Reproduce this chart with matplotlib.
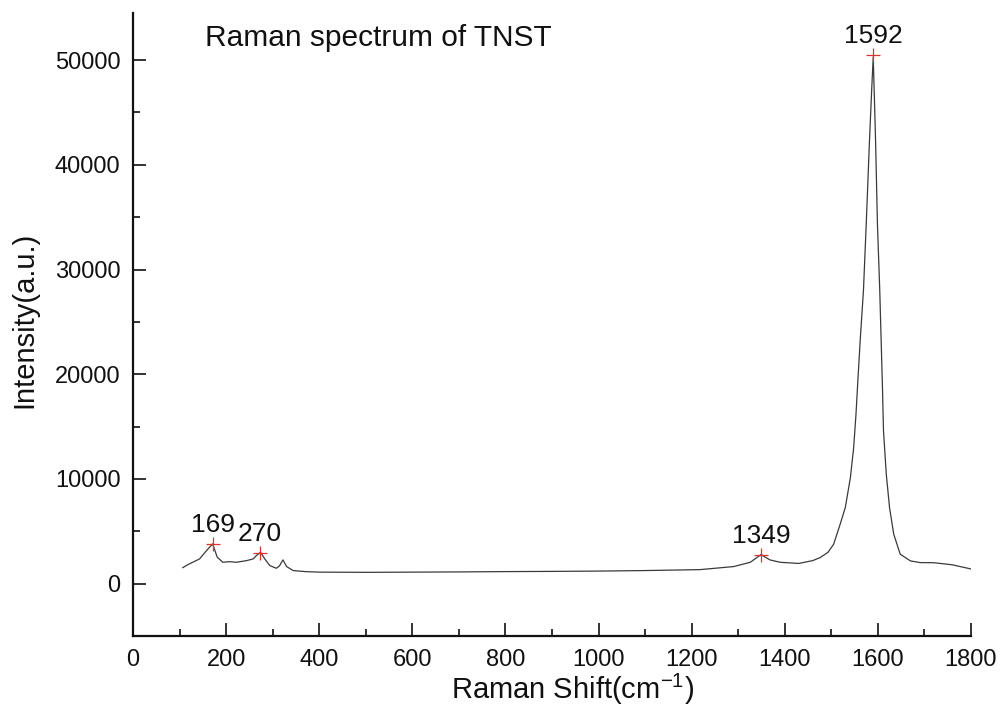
import matplotlib
matplotlib.use("Agg")
import matplotlib.pyplot as plt
from matplotlib.ticker import MultipleLocator

plt.rcParams['font.family'] = ['Liberation Sans', 'DejaVu Sans']
plt.rcParams['mathtext.fontset'] = 'custom'
plt.rcParams['mathtext.rm'] = 'Liberation Sans'

# Spectrum
shift = [107, 118, 143, 158, 171, 181, 193, 208, 222, 244, 258, 265, 274, 283,
         294, 308, 315, 322, 330, 344, 370, 400, 500, 600, 700, 800, 900, 1000,
         1100, 1218, 1290, 1326, 1349, 1368, 1390, 1430, 1460, 1476, 1493, 1505,
         1519, 1530, 1541, 1548, 1553, 1557, 1562, 1569, 1575, 1582, 1587, 1590,
         1595, 1599, 1604, 1607, 1610, 1612, 1618, 1625, 1634, 1648, 1670, 1691,
         1720, 1760, 1799]
intensity = [1530, 1820, 2360, 3160, 3800, 2520, 2040, 2100, 2040, 2200, 2360,
             2680, 3000, 2360, 1720, 1470, 1720, 2270, 1630, 1250, 1150, 1100,
             1080, 1100, 1120, 1150, 1170, 1200, 1250, 1340, 1630, 2040, 2780,
             2270, 2040, 1930, 2200, 2490, 3000, 3770, 5680, 7270, 10140, 13010,
             16210, 19400, 23230, 28010, 34390, 42360, 47500, 50300, 42360,
             34390, 28010, 23230, 18440, 14610, 10470, 7270, 4730, 2810, 2170,
             2010, 2000, 1800, 1410]

peak_x = [171, 272, 1349, 1590]
peak_y = [3800, 2900, 2780, 50500]
peak_labels = ['169', '270', '1349', '1592']

fig = plt.figure(figsize=(10.01, 7.13), dpi=100)
ax = fig.add_axes([133 / 1001, 1 - 636 / 713, (971 - 133) / 1001, (636 - 13) / 713])

ax.plot(shift, intensity, color='#3a3a3a', lw=0.9)
ax.plot(peak_x, peak_y, '+', color='#e03030', ms=10, mew=0.9)
for px, py, lab in zip(peak_x, peak_y, peak_labels):
    ax.annotate(lab, (px, py), xytext=(0, 8.5), textcoords='offset points',
                ha='center', va='baseline', fontsize=19, color='#111111')

ax.set_xlim(0, 1800)
ax.set_ylim(-5000, 54500)
ax.set_xticks(range(0, 1801, 200))
ax.set_yticks(range(0, 50001, 10000))
ax.xaxis.set_minor_locator(MultipleLocator(100))
ax.yaxis.set_minor_locator(MultipleLocator(5000))

for s in ['top', 'right']:
    ax.spines[s].set_visible(False)
for s in ['left', 'bottom']:
    ax.spines[s].set_linewidth(1.6)
    ax.spines[s].set_color('#111111')

ax.tick_params(which='major', direction='in', length=9.5, width=1.2,
               labelsize=17, pad=9, colors='#111111')
ax.tick_params(which='minor', direction='in', length=5, width=1.2, colors='#111111')

ax.set_xlabel('Raman Shift(cm$^{\\mathregular{-1}}$)', fontsize=21, color='#111111')
ax.xaxis.set_label_coords(0.525, -0.058)
ax.set_ylabel('Intensity(a.u.)', fontsize=21, color='#111111')
ax.yaxis.set_label_coords(-0.113, 0.508)

fig.text(205 / 1001, 1 - 46.5 / 713, 'Raman spectrum of TNST', fontsize=21.5,
         ha='left', va='baseline', color='#111111')

fig.savefig('out.png', dpi=100, facecolor='white')
